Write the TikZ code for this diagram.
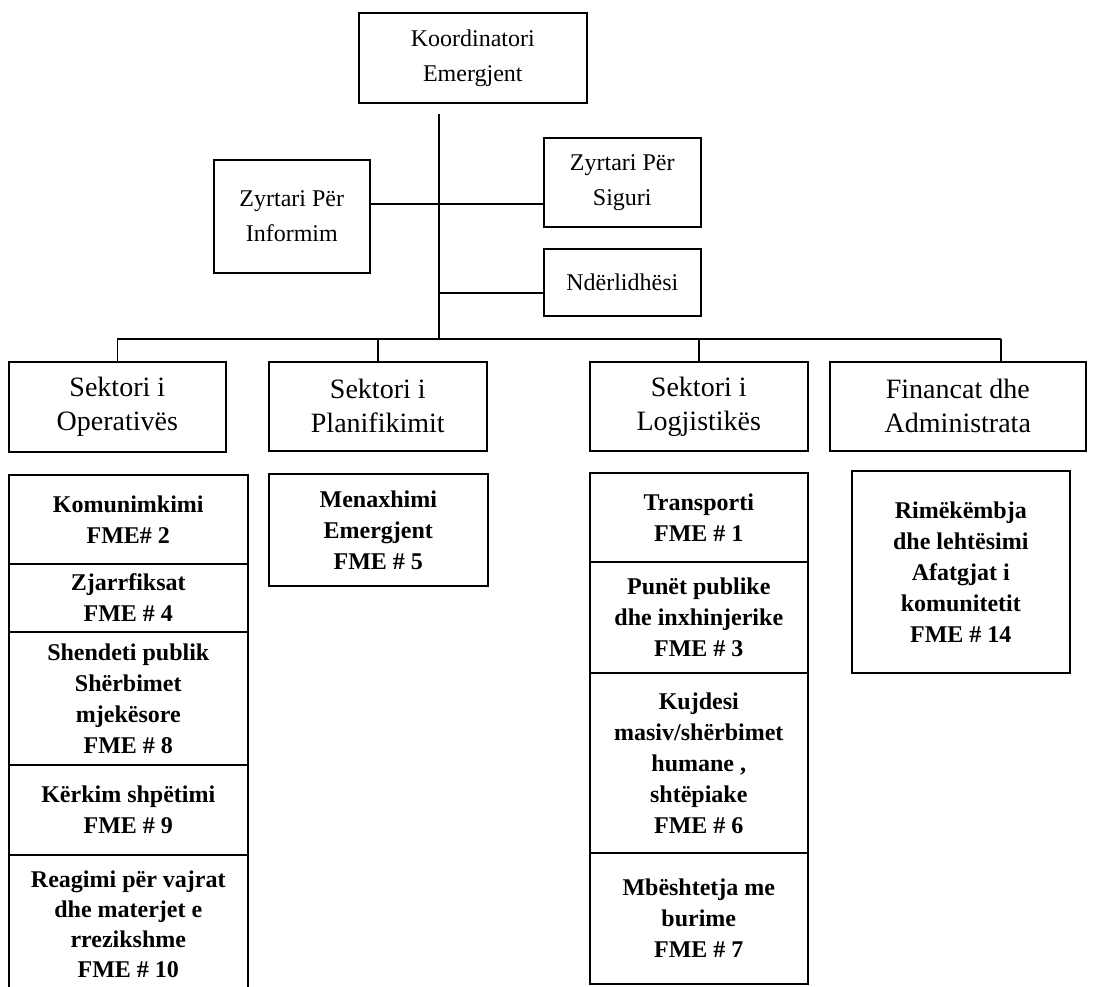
\documentclass[tikz,border=0pt]{standalone}
\usepackage{fontspec}
\setmainfont{Liberation Serif}

\tikzset{
    unitBox/.style={draw, line width=1.6pt, inner sep=0pt, align=center, anchor=north west},
    boxSize/.style 2 args={minimum width=#1pt, minimum height=#2pt},
    headBox/.style={unitBox, font=\fontsize{24}{35}\selectfont},
    sectorBox/.style={unitBox, font=\fontsize{28}{34}\selectfont},
    fmeBox/.style={unitBox, font=\bfseries\fontsize{24}{31}\selectfont},
    link/.style={line width=1.6pt}
}

\begin{document}
\begin{tikzpicture}[x=1pt, y=-1pt]

\useasboundingbox (0,0) rectangle (1118,986);
\clip (0,0) rectangle (1118,986);

% Head of the chart
\node[headBox, boxSize={228}{90}] (koord) at (358,12) {Koordinatori\\Emergjent};
\node[headBox, boxSize={156}{113}] (info) at (213,159) {Zyrtari Për\\Informim};
\node[headBox, boxSize={157}{89}] (siguri) at (543,137) {Zyrtari Për\\Siguri};
\node[headBox, boxSize={157}{67}] (nder) at (543,248) {Ndërlidhësi};

% Sectors
\node[sectorBox, boxSize={217}{90}] (oper) at (8,361) {Sektori i\\Operativës};
\node[sectorBox, boxSize={218}{89}] (plan) at (268,361) {Sektori i\\Planifikimit};
\node[sectorBox, boxSize={218}{89}] (logj) at (589,361) {Sektori i\\Logjistikës};
\node[sectorBox, boxSize={256}{89}] (fin) at (829,361) {Financat dhe\\Administrata};

% Functions under the operations sector
\node[fmeBox, boxSize={239}{89}] (kom) at (8,474) {Komunimkimi\\FME\# 2};
\node[fmeBox, boxSize={239}{68}] (zjarr) at (8,563) {Zjarrfiksat\\FME \# 4};
\node[fmeBox, boxSize={239}{133}] (shend) at (8,631) {Shendeti publik\\Shërbimet\\mjekësore\\FME \# 8};
\node[fmeBox, boxSize={239}{90}] (kerk) at (8,764) {Kërkim shpëtimi\\FME \# 9};
\node[fmeBox, boxSize={239}{138}, font=\bfseries\fontsize{24}{30}\selectfont] (reag) at (8,854) {Reagimi për vajrat\\dhe materjet e\\rrezikshme\\FME \# 10};

% Functions under planning
\node[fmeBox, boxSize={219}{112}] (menax) at (268,473) {Menaxhimi\\Emergjent\\FME \# 5};

% Functions under logistics
\node[fmeBox, boxSize={218}{89}] (trans) at (589,472) {Transporti\\FME \# 1};
\node[fmeBox, boxSize={218}{111}] (punet) at (589,561) {Punët publike\\dhe inxhinjerike\\FME \# 3};
\node[fmeBox, boxSize={218}{180}] (kujd) at (589,672) {Kujdesi\\masiv/shërbimet\\humane ,\\shtëpiake\\FME \# 6};
\node[fmeBox, boxSize={218}{131}] (mbes) at (589,852) {Mbështetja me\\burime\\FME \# 7};

% Functions under finance
\node[fmeBox, boxSize={218}{202}] (rimek) at (851,470) {Rimëkëmbja\\dhe lehtësimi\\Afatgjat i\\komunitetit\\FME \# 14};

% Points on the trunk and the bus
\coordinate (trunkTop) at (439,114);
\coordinate (trunkBot) at (439,339);
\coordinate (hubInfo) at (439,204);
\coordinate (hubLink) at (439,293);
\coordinate (busEnd) at (1001,339);

% Draws the trunk and its branches
\draw[link] (trunkTop) -- (trunkBot);
\draw[link] (info.east |- hubInfo) -- (siguri.west |- hubInfo);
\draw[link] (hubLink) -- (nder.west |- hubLink);

% Draws the bus down to the sectors
\draw[link] (oper.north |- trunkBot) -- (busEnd);
\foreach \sector in {oper,plan,logj} {
    \draw[link] (\sector.north |- trunkBot) -- (\sector.north);
}
\draw[link] (busEnd) -- (busEnd |- fin.north);

\end{tikzpicture}
\end{document}
